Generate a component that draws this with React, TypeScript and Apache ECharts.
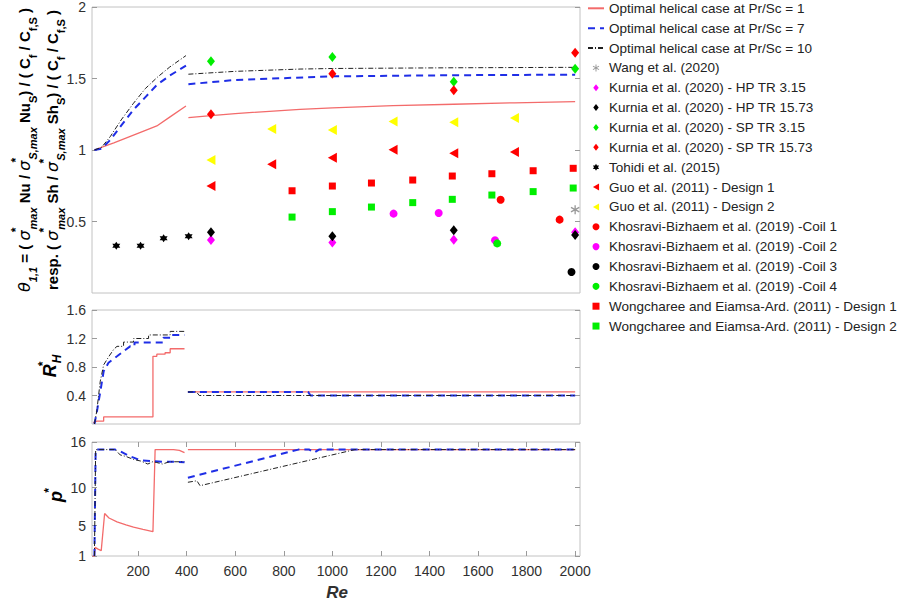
import React, { useEffect, useRef } from "react";
import * as echarts from "echarts";

// ---------- names ----------
const NAME_PR1 = "Optimal helical case at Pr/Sc = 1";
const NAME_PR7 = "Optimal helical case at Pr/Sc = 7";
const NAME_PR10 = "Optimal helical case at Pr/Sc = 10";

// ---------- tick values ----------
const X_TICKS = [200, 400, 600, 800, 1000, 1200, 1400, 1600, 1800, 2000];
const TOP_Y_TICKS = [0.5, 1, 1.5, 2];
const MID_Y_TICKS = [0.4, 0.8, 1.2, 1.6];
const BOT_Y_TICKS = [1, 5, 10, 16];

// ---------- top panel curves (theta) ----------
const PR1_THETA = [[20, 1.0], [57, 1.023], [100, 1.05], [160, 1.09], [220, 1.13], [277, 1.168], [330, 1.23], [397, 1.308], [400, null], [407, 1.226], [500, 1.24], [600, 1.255], [867, 1.284], [1000, 1.295], [1250, 1.31], [1500, 1.32], [1750, 1.33], [2000, 1.338]];
const PR7_THETA = [[20, 1.0], [50, 1.01], [85, 1.07], [130, 1.17], [180, 1.28], [230, 1.37], [277, 1.455], [330, 1.52], [397, 1.59], [400, null], [407, 1.46], [600, 1.49], [1000, 1.515], [1500, 1.523], [2000, 1.527]];
const PR10_THETA = [[20, 1.0], [50, 1.02], [85, 1.093], [130, 1.21], [181, 1.327], [230, 1.43], [280, 1.51], [330, 1.58], [397, 1.66], [400, null], [407, 1.53], [600, 1.55], [867, 1.566], [1000, 1.57], [1500, 1.575], [2000, 1.578]];

// ---------- middle panel curves (R*_H) ----------
const PR1_RH = [[15, 0.02], [30, 0.04], [58, 0.04], [58, 0.1], [261, 0.1], [261, 0.95], [277, 0.95], [277, 0.98], [311, 0.98], [311, 1.0], [332, 1.0], [332, 1.056], [391, 1.056], [395, null], [405, 0.45], [2000, 0.45]];
const PR7_RH = [[20, 0], [30, 0.17], [44, 0.45], [58, 0.74], [78, 0.86], [113, 0.95], [140, 1.02], [167, 1.09], [185, 1.09], [185, 1.145], [304, 1.145], [304, 1.21], [332, 1.21], [332, 1.25], [391, 1.25], [395, null], [405, 0.45], [900, 0.45], [910, 0.4], [2000, 0.4]];
const PR10_RH = [[20, 0], [30, 0.19], [44, 0.6], [58, 0.83], [80, 0.95], [100, 1.05], [113, 1.09], [140, 1.09], [140, 1.15], [181, 1.15], [181, 1.2], [243, 1.2], [243, 1.25], [332, 1.25], [332, 1.3], [391, 1.3], [395, null], [405, 0.45], [440, 0.45], [452, 0.4], [2000, 0.4]];

// ---------- bottom panel curves (p*) ----------
const PR1_P = [[12, 1], [20, 1], [23, 2.14], [35, 1.9], [48, 1.7], [62, 6.6], [80, 6.0], [113, 5.5], [150, 5.1], [181, 4.8], [220, 4.5], [261, 4.2], [270, 15.0], [346, 15.0], [370, 14.9], [391, 14.6], [395, null], [405, 15], [2000, 15]];
const PR7_P = [[20, 1], [25, 15], [106, 15], [126, 14.8], [160, 14.2], [209, 13.6], [250, 13.5], [300, 13.4], [350, 13.4], [391, 13.35], [395, null], [405, 11.3], [860, 15], [905, 15], [925, 14.6], [945, 15], [2000, 15]];
const PR10_P = [[20, 1], [25, 15], [106, 15], [126, 14.3], [150, 14.1], [181, 13.7], [210, 13.5], [240, 13.1], [260, 13.4], [277, 13.3], [300, 13.1], [329, 13.4], [360, 13.4], [391, 13.4], [395, null], [405, 10.7], [442, 10.9], [455, 10.25], [1093, 15], [2000, 15]];

// ---------- literature data (top panel) ----------
const WANG_2020 = [[2000, 0.583]];
const KURNIA_HP_315 = [[500, 0.37], [1000, 0.354], [1500, 0.373], [2000, 0.424]];
const KURNIA_HP_1573 = [[500, 0.424], [1000, 0.396], [1500, 0.438], [2000, 0.406]];
const KURNIA_SP_315 = [[500, 1.62], [1000, 1.65], [1500, 1.478], [2000, 1.569]];
const KURNIA_SP_1573 = [[500, 1.25], [1000, 1.534], [1500, 1.417], [2000, 1.68]];
const TOHIDI_2015 = [[110, 0.33], [210, 0.331], [305, 0.383], [408, 0.397]];
const GUO_D1 = [[500, 0.748], [750, 0.9], [1000, 0.946], [1250, 1.002], [1500, 0.977], [1750, 0.986]];
const GUO_D2 = [[500, 0.93], [750, 1.147], [1000, 1.14], [1250, 1.2], [1500, 1.194], [1750, 1.224]];
const KHOS_C1 = [[1693, 0.652], [1936, 0.513]];
const KHOS_C2 = [[1252, 0.555], [1438, 0.559], [1670, 0.369]];
const KHOS_C3 = [[1985, 0.147]];
const KHOS_C4 = [[1679, 0.347]];
const WONG_D1 = [[834, 0.715], [1000, 0.748], [1161, 0.769], [1331, 0.79], [1494, 0.818], [1657, 0.834], [1827, 0.855], [1992, 0.872]];
const WONG_D2 = [[834, 0.531], [1000, 0.569], [1161, 0.601], [1331, 0.632], [1494, 0.655], [1657, 0.685], [1827, 0.709], [1992, 0.734]];

// ---------- symbol shapes ----------
function hexagramPath(): string {
  const pts: string[] = [];
  for (let i = 0; i < 12; i++) {
    const a = (-90 + i * 30) * Math.PI / 180;
    const r = i % 2 === 0 ? 1 : 0.58;
    pts.push((i === 0 ? "M" : "L") + (r * Math.cos(a)).toFixed(3) + "," + (r * Math.sin(a)).toFixed(3));
  }
  return "path://" + pts.join("") + "Z";
}
function asteriskPath(): string {
  let d = "";
  const w = 0.14;
  for (const deg of [90, 30, 150]) {
    const a = deg * Math.PI / 180;
    const ux = Math.cos(a), uy = Math.sin(a);
    const px = -uy * w, py = ux * w;
    const c = [[ux + px, uy + py], [ux - px, uy - py], [-ux - px, -uy - py], [-ux + px, -uy + py]];
    d += "M" + c.map((p) => p[0].toFixed(3) + "," + p[1].toFixed(3)).join("L") + "Z";
  }
  return "path://" + d;
}
const DIAMOND = "path://M0,-1L0.78,0L0,1L-0.78,0Z";
const LEFT_TRI = "path://M-1,0L0.75,-1L0.75,1Z";
const SQUARE = "path://M-1,-1L1,-1L1,1L-1,1Z";

const FONT = "Liberation Sans, Arial, sans-serif";
const TXT = "#303030";
const BOX = "#c2c2c2";

const RED_LINE = "#f36b6b";
const BLUE_LINE = "#1f2ee6";
const BLACK_LINE = "#202020";

export default function App() {
  const ref = useRef<HTMLDivElement>(null);
  useEffect(() => {
    document.body.style.margin = "0";
    if (!ref.current) return;
    const chart = echarts.init(ref.current, null, { renderer: "svg" });

    const grids = [
      { left: 92, top: 7, width: 488, height: 286 },
      { left: 92, top: 310, width: 488, height: 114 },
      { left: 92, top: 442, width: 488, height: 114 },
    ].map((g) => ({ ...g, show: true, borderColor: BOX, borderWidth: 1, backgroundColor: "#fff" }));

    const tick = (vals: number[] | null) => ({
      show: !!vals,
      inside: true,
      length: 5,
      customValues: vals || undefined,
      lineStyle: { color: "#9a9a9a" },
    });
    const xBase = { type: "value", min: 10, max: 2020, splitLine: { show: false }, axisLine: { show: false } };
    const xAxis = [
      { ...xBase, gridIndex: 0, axisLabel: { show: false }, axisTick: { show: false } },
      { ...xBase, gridIndex: 1, axisLabel: { show: false }, axisTick: { show: false } },
      {
        ...xBase, gridIndex: 2, position: "bottom",
        axisLabel: { show: true, customValues: X_TICKS, formatter: (v: number) => String(v), fontSize: 14, color: TXT, fontFamily: FONT, margin: 8 },
        axisTick: tick(X_TICKS),
      },
      { ...xBase, gridIndex: 2, position: "top", axisLabel: { show: false }, axisTick: tick(X_TICKS) },
    ];
    const yLeft = (gi: number, min: number, max: number, ticks: number[]) => ({
      type: "value", gridIndex: gi, min, max, position: "left",
      splitLine: { show: false }, axisLine: { show: false },
      axisLabel: { show: true, customValues: ticks, formatter: (v: number) => String(v), fontSize: 14, color: TXT, fontFamily: FONT, margin: 6 },
      axisTick: tick(ticks),
    });
    const yRight = (gi: number, min: number, max: number, ticks: number[]) => ({
      type: "value", gridIndex: gi, min, max, position: "right",
      splitLine: { show: false }, axisLine: { show: false },
      axisLabel: { show: false },
      axisTick: tick(ticks),
    });
    const yAxis = [
      yLeft(0, 0, 2, TOP_Y_TICKS), yRight(0, 0, 2, TOP_Y_TICKS),
      yLeft(1, 0, 1.6, MID_Y_TICKS), yRight(1, 0, 1.6, MID_Y_TICKS),
      yLeft(2, 1, 16, BOT_Y_TICKS), yRight(2, 1, 16, BOT_Y_TICKS),
    ];

    const lineSeries = (name: string, data: any[], xi: number, yi: number, color: string, width: number, type: any) => ({
      name, type: "line", data, xAxisIndex: xi, yAxisIndex: yi,
      showSymbol: false, symbol: "none", connectNulls: false,
      itemStyle: { color },
      lineStyle: { color, width, type },
      z: 3,
    });
    const dashDot = [5, 2, 1, 2];
    const lines: any[] = [];
    const panels: [any[], any[], any[], number, number][] = [
      [PR1_THETA, PR7_THETA, PR10_THETA, 0, 0],
      [PR1_RH, PR7_RH, PR10_RH, 1, 2],
      [PR1_P, PR7_P, PR10_P, 2, 4],
    ];
    for (const [a, b, c, xi, yi] of panels) {
      lines.push(lineSeries(NAME_PR1, a, xi, yi, RED_LINE, 1.3, "solid"));
      lines.push(lineSeries(NAME_PR7, b, xi, yi, BLUE_LINE, 2, [7, 5]));
      lines.push(lineSeries(NAME_PR10, c, xi, yi, BLACK_LINE, 1, dashDot));
    }

    const HEX = hexagramPath();
    const AST = asteriskPath();
    const sc = (name: string, data: any[], color: string, symbol: string, size: any) => ({
      name, type: "scatter", data, xAxisIndex: 0, yAxisIndex: 0,
      symbol, symbolSize: size,
      itemStyle: { color, opacity: 1 }, z: 4,
    });
    const scatters = [
      sc("Wang et al. (2020)", WANG_2020, "#9a9a9a", AST, 9),
      sc("Kurnia et al. (2020) - HP TR 3.15", KURNIA_HP_315, "#ff00ff", DIAMOND, [8, 10]),
      sc("Kurnia et al. (2020) - HP TR 15.73", KURNIA_HP_1573, "#000000", DIAMOND, [8, 10]),
      sc("Kurnia et al. (2020) - SP TR 3.15", KURNIA_SP_315, "#00ee00", DIAMOND, [8, 10]),
      sc("Kurnia et al. (2020) - SP TR 15.73", KURNIA_SP_1573, "#ff0000", DIAMOND, [8, 10]),
      sc("Tohidi et al. (2015)", TOHIDI_2015, "#000000", HEX, 8),
      sc("Guo et al. (2011) - Design 1", GUO_D1, "#ff0000", LEFT_TRI, [9, 10]),
      sc("Guo et al. (2011) - Design 2", GUO_D2, "#ffff00", LEFT_TRI, [9, 10]),
      sc("Khosravi-Bizhaem et al. (2019) -Coil 1", KHOS_C1, "#ff0000", "circle", 8),
      sc("Khosravi-Bizhaem et al. (2019) -Coil 2", KHOS_C2, "#ff00ff", "circle", 8),
      sc("Khosravi-Bizhaem et al. (2019) -Coil 3", KHOS_C3, "#000000", "circle", 8),
      sc("Khosravi-Bizhaem et al. (2019) -Coil 4", KHOS_C4, "#00ee00", "circle", 8),
      sc("Wongcharee and Eiamsa-Ard. (2011) - Design 1", WONG_D1, "#ff0000", SQUARE, 7),
      sc("Wongcharee and Eiamsa-Ard. (2011) - Design 2", WONG_D2, "#00ee00", SQUARE, 7),
    ];

    const legendData: any[] = [
      { name: NAME_PR1, itemStyle: { opacity: 0 } },
      { name: NAME_PR7, itemStyle: { opacity: 0 } },
      { name: NAME_PR10, itemStyle: { opacity: 0 } },
      ...scatters.map((s) => ({ name: s.name, icon: s.symbol })),
    ];

    const b = { fontSize: 15, fontWeight: "bold", lineHeight: 28, color: TXT, fontFamily: FONT };
    const rich = {
      b,
      it: { ...b, fontStyle: "italic", fontWeight: "normal", fontSize: 16, fontFamily: "DejaVu Sans, sans-serif" },
      sub: { ...b, fontSize: 11, fontStyle: "italic", lineHeight: 16, verticalAlign: "bottom" },
      subn: { ...b, fontSize: 11, lineHeight: 16, verticalAlign: "bottom" },
      sup: { ...b, fontSize: 12, lineHeight: 14, verticalAlign: "top", width: 1 },
      big: { fontSize: 18, fontWeight: "bold", fontStyle: "italic", lineHeight: 26, color: TXT, fontFamily: FONT },
      bsup: { fontSize: 12, fontWeight: "bold", lineHeight: 14, verticalAlign: "top", color: TXT, fontFamily: FONT, width: 1 },
      bsub: { fontSize: 12, fontWeight: "bold", fontStyle: "italic", lineHeight: 16, verticalAlign: "bottom", color: TXT, fontFamily: FONT },
    };
    const line1 = "{it|θ}{sub|1,1}{b| = ( }{it|σ}{sup|*}{sub|max}{b| Nu / }{it|σ}{sup|*}{sub|S,max}{b| Nu}{subn|S}{b|) / ( C}{subn|f}{b| / C}{subn|f,S}{b| )}";
    const line2 = "{b|resp. ( }{it|σ}{sup|*}{sub|max}{b| Sh / }{it|σ}{sup|*}{sub|S,max}{b| Sh}{subn|S}{b|) / ( C}{subn|f}{b| / C}{subn|f,S}{b| )}";

    const option: any = {
      animation: false,
      backgroundColor: "#fff",
      grid: grids,
      xAxis,
      yAxis,
      legend: {
        orient: "vertical",
        left: 587,
        top: 1.3,
        padding: 0,
        itemWidth: 16,
        itemHeight: 7,
        itemGap: 5.86,
        data: legendData,
        textStyle: { fontSize: 13.5, color: "#222", fontFamily: FONT, lineHeight: 14 },
        selectedMode: false,
      },
      series: [...lines, ...scatters],
      graphic: [
        {
          type: "text", x: 38, y: 150, rotation: Math.PI / 2,
          style: { text: line1 + "\n" + line2, rich, align: "center", verticalAlign: "middle" },
        },
        {
          type: "text", x: 50, y: 366, rotation: Math.PI / 2,
          style: { text: "{big|R}{bsup|*}{bsub|H}", rich, align: "center", verticalAlign: "middle" },
        },
        {
          type: "text", x: 56, y: 496, rotation: Math.PI / 2,
          style: { text: "{big|p}{bsup|*}", rich, align: "center", verticalAlign: "middle" },
        },
        {
          type: "text", x: 337, y: 592,
          style: { text: "Re", font: "italic bold 17px " + FONT, fill: TXT, align: "center", verticalAlign: "middle" },
        },
      ],
    };
    chart.setOption(option);
    return () => chart.dispose();
  }, []);
  return <div ref={ref} style={{ width: 901, height: 606 }} />;
}
